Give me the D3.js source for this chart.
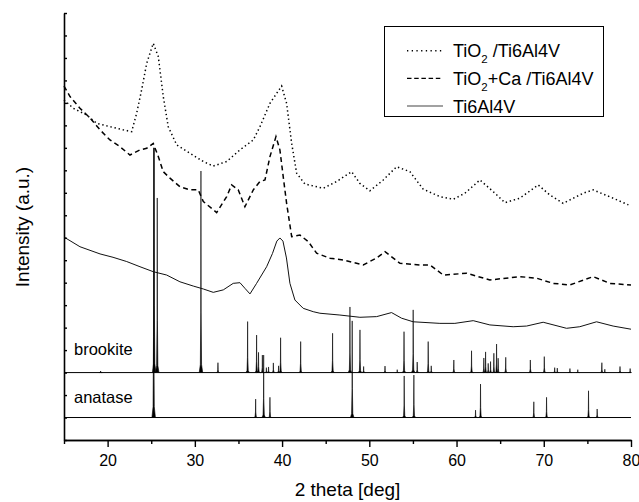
<!DOCTYPE html>
<html>
<head>
<meta charset="utf-8">
<script src="https://cdn.jsdelivr.net/npm/d3@7"></script>
<style>
body { margin: 0; background: #fff; }
svg { display: block; font-family: Arial, "Liberation Sans", sans-serif; }
</style>
</head>
<body>
<svg id="chart" width="639" height="502"></svg>
<script>
// measured curves: [2theta, intensity (a.u.)]
var tio2 = [[15.0,15.13],[16.07,14.76],[17.6,14.46],[18.75,14.09],[20.27,13.94],[21.8,13.8],[22.76,13.72],[23.33,14.54],
	[23.9,15.58],[24.48,16.76],[25.23,17.65],[25.81,17.06],[26.38,15.28],[26.95,13.94],[27.92,13.13],[29.44,12.76],
	[30.97,12.39],[32.11,12.19],[33.65,12.39],[35.17,12.91],[36.7,13.35],[37.46,13.94],[38.61,14.98],[39.95,15.75],
	[40.52,14.98],[41.1,13.2],[41.67,11.87],[42.62,11.39],[44.72,11.2],[46.25,11.5],[47.97,11.94],[48.92,11.42],
	[50.07,11.09],[51.6,11.57],[53.13,12.16],[54.65,11.94],[56.18,11.16],[58.09,10.83],[59.62,10.71],[60.96,10.98],
	[62.68,11.57],[64.21,11.05],[65.55,10.56],[67.26,10.76],[69.36,11.35],[70.7,10.9],[72.22,10.53],[74.52,10.98],
	[75.66,11.13],[77.95,10.76],[79.7,10.46]];

var tio2ca = [[15,15.75],[15.69,15.28],[16.83,14.76],[17.98,14.33],[19.13,13.8],[20.27,13.35],[21.42,13.05],[22.56,12.68],
	[23.71,12.91],[24.48,12.98],[25.23,13.2],[25.81,12.61],[26.38,11.94],[27.15,11.65],[28.29,11.27],[29.44,11.13],
	[30.39,11.13],[30.97,10.61],[32.5,10.12],[33.65,10.83],[34.22,11.35],[34.98,11.13],[35.74,10.38],[36.7,11.13],
	[37.46,11.5],[38.04,11.57],[38.61,12.61],[39.3,13.5],[39.75,12.91],[40.13,11.72],[40.52,10.53],[41.1,9.05],
	[42.05,9.12],[43.0,8.83],[43.96,8.31],[45.49,8.09],[47.01,8.01],[49.31,7.79],[50.84,8.1],[51.8,8.38],
	[53.52,7.86],[55.81,7.79],[56.96,7.79],[58.48,7.34],[61.16,7.42],[63.82,7.12],[67.26,7.27],[69.17,7.2],
	[71.08,6.97],[73.0,6.9],[75.66,7.27],[77.57,6.97],[80,6.9]];

var ti6al4v = [[15,9.03],[16.83,8.6],[19.13,8.28],[20.62,8.13],[22.19,7.94],[23.71,7.71],[25.23,7.49],[26.77,7.34],
	[28.29,7.04],[29.82,6.85],[30.97,6.72],[32.11,6.57],[33.26,6.68],[34.4,6.97],[35.17,7.0],[35.74,6.75],[36.32,6.5],
	[37.08,6.97],[38.23,7.71],[38.9,8.3],[39.4,8.85],[39.75,8.99],[40.1,8.85],[40.5,8.1],[40.9,6.97],[41.47,6.23],
	[42.42,5.86],[43.57,5.71],[44.34,5.64],[46.63,5.56],[48.92,5.46],[50.84,5.49],[52.55,5.67],[53.7,5.42],
	[55.03,5.26],[58.09,5.19],[59.81,5.19],[61.91,5.31],[63.82,5.12],[66.49,5.04],[68.03,5.07],[69.93,5.24],
	[72.61,4.97],[74.13,5.04],[76.05,5.26],[77.95,5.07],[80,4.93]];

// reference patterns: [position, height] above their offset
var brookiteOffset = 3;
var brookitePeaks = [[19.2,0.07],[25.34,10.0],[25.69,7.77],[30.7,8.97],[32.65,0.44],[36.05,2.27],[37.08,1.67],[37.3,0.9],
	[37.74,0.78],[38.2,0.22],[38.45,0.25],[39.0,0.43],[39.6,0.3],[39.83,1.55],[42.13,1.38],[45.79,1.75],[47.78,2.92],
	[48.93,1.9],[49.35,0.27],[51.8,0.29],[53.2,0.13],[53.98,1.82],[55.03,2.79],[55.49,0.47],[56.75,1.38],[57.1,0.3],
	[59.69,0.56],[61.72,0.97],[63.13,0.65],[63.33,0.92],[63.63,0.41],[63.9,0.49],[64.28,0.86],[64.59,1.27],[64.77,0.64],
	[65.64,0.68],[68.46,0.56],[70.06,0.71],[71.25,0.22],[71.55,0.2],[73.0,0.18],[73.9,0.13],[76.66,0.44],[77.0,0.15],
	[78.74,0.27],[79.9,0.18]];

var anataseOffset = 1;
var anatasePeaks = [[25.28,12.0],[36.97,0.82],[37.89,2.78],[38.61,0.9],[48.04,4.3],[54.0,1.85],[55.11,1.89],[62.18,0.33],
	[62.75,1.49],[68.86,0.7],[70.32,0.9],[75.13,1.19],[76.12,0.38]];

var majorTicks = [20, 30, 40, 50, 60, 70, 80];
var minorTicks = [15, 25, 35, 45, 55, 65, 75];

var svg = d3.select("#chart");
var x = d3.scaleLinear().domain([15, 80]).range([64, 631]);
var y = d3.scaleLinear().domain([0, 19]).range([440, 13]);

var line = d3.line().x(function(d) { return x(d[0]); }).y(function(d) { return y(d[1]); });

// reference sticks
function drawPattern(peaks, off)
{
	var g = svg.append("g");
	g.append("path")
		.attr("d", line([[15, off], [80, off]]))
		.attr("fill", "none").attr("stroke", "#000").attr("stroke-width", 1);
	peaks.forEach(function(p) {
		var c = p[0], h = p[1];
		var pts = [[c-0.2, off], [c-0.07, off+h*0.04], [c-0.02, off+h*0.3], [c, off+h],
			[c+0.02, off+h*0.3], [c+0.07, off+h*0.04], [c+0.2, off]];
		g.append("path")
			.attr("d", line(pts))
			.attr("fill", "#000").attr("stroke", "#000").attr("stroke-width", 0.6);
	});
}
drawPattern(anatasePeaks, anataseOffset);
drawPattern(brookitePeaks, brookiteOffset);

svg.append("path").attr("d", line(ti6al4v))
	.attr("fill", "none").attr("stroke", "#111").attr("stroke-width", 1);
svg.append("path").attr("d", line(tio2ca))
	.attr("fill", "none").attr("stroke", "#000").attr("stroke-width", 1.5)
	.attr("stroke-dasharray", "5,3.5");
svg.append("path").attr("d", line(tio2))
	.attr("fill", "none").attr("stroke", "#000").attr("stroke-width", 1.5)
	.attr("stroke-dasharray", "1.4,2.8");

svg.append("text").attr("x", 74).attr("y", 355).attr("font-size", 16.5).text("brookite");
svg.append("text").attr("x", 74).attr("y", 403).attr("font-size", 16.5).text("anatase");

// axes
var xMajor = svg.append("g").attr("transform", "translate(0,440)")
	.call(d3.axisBottom(x).tickValues(majorTicks).tickSize(7).tickSizeOuter(0).tickPadding(8));
var xMinor = svg.append("g").attr("transform", "translate(0,440)")
	.call(d3.axisBottom(x).tickValues(minorTicks).tickSize(4).tickSizeOuter(0).tickFormat(""));
var yAx = svg.append("g").attr("transform", "translate(64,0)")
	.call(d3.axisLeft(y).tickValues(d3.range(0, 20)).tickSize(-3).tickSizeOuter(0).tickFormat(""));

[xMajor, xMinor, yAx].forEach(function(g) {
	g.select(".domain").attr("stroke", "#000").attr("stroke-width", 1.6);
	g.selectAll(".tick line").attr("stroke", "#000").attr("stroke-width", 1.4);
});
xMajor.selectAll("text").attr("font-size", 16).attr("font-family", "Arial, 'Liberation Sans', sans-serif").attr("fill", "#000");

svg.append("text").attr("x", 347.5).attr("y", 496).attr("text-anchor", "middle")
	.attr("font-size", 19).text("2 theta [deg]");
svg.append("text").attr("transform", "translate(29,227) rotate(-90)").attr("text-anchor", "middle")
	.attr("font-size", 19).text("Intensity (a.u.)");

// legend
var leg = svg.append("g");
leg.append("rect").attr("x", 384.5).attr("y", 26.5).attr("width", 219).attr("height", 90)
	.attr("fill", "#fff").attr("stroke", "#000").attr("stroke-width", 1);
var legItems = [
	{name: ["TiO", "2", " /Ti6Al4V"], dash: "1.3,3.4", w: 1.4, yy: 50.7},
	{name: ["TiO", "2", "+Ca /Ti6Al4V"], dash: "4.5,2.7", w: 1.3, yy: 78.3},
	{name: ["Ti6Al4V"], dash: null, w: 1.2, yy: 106}
];
legItems.forEach(function(d) {
	leg.append("line").attr("x1", 407).attr("x2", 443).attr("y1", d.yy).attr("y2", d.yy)
		.attr("stroke", d.dash ? "#000" : "#444").attr("stroke-width", d.w)
		.attr("stroke-dasharray", d.dash);
	var t = leg.append("text").attr("x", 453).attr("y", d.yy + 6.5).attr("font-size", 18);
	t.append("tspan").text(d.name[0]);
	if (d.name.length > 1)
	{
		t.append("tspan").attr("dy", 6).attr("font-size", 11.5).text(d.name[1]);
		t.append("tspan").attr("dy", -6).text(d.name[2]);
	}
});
</script>
</body>
</html>
